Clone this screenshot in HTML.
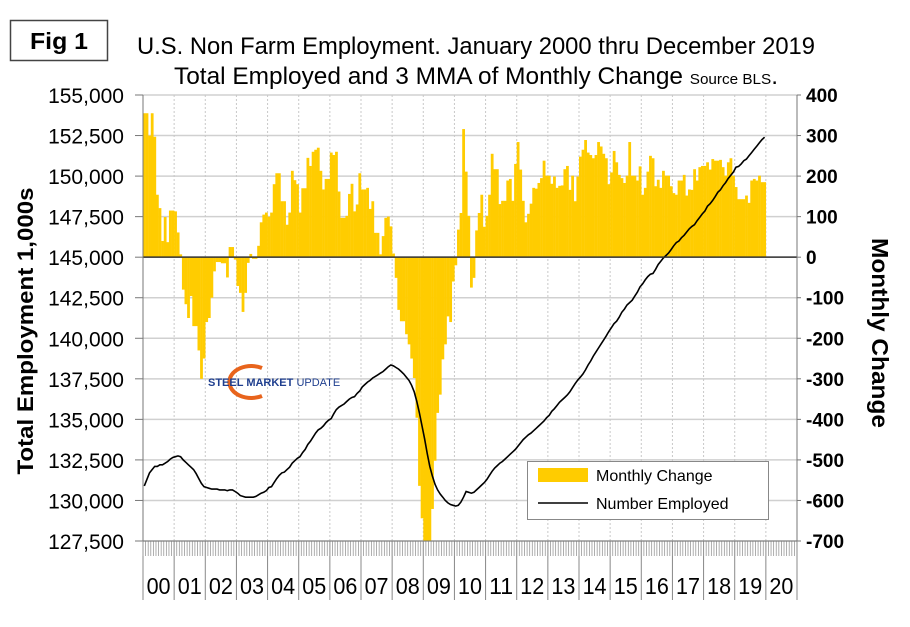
<!DOCTYPE html>
<html><head><meta charset="utf-8"><style>
body{margin:0;background:#fff;}
svg text{font-family:"Liberation Sans",sans-serif;}
</style></head><body>
<svg id="chart" width="910" height="622" xmlns="http://www.w3.org/2000/svg">
<rect x="0" y="0" width="910" height="622" fill="#fff"/>
<g><rect x="10.5" y="20.5" width="97" height="40" fill="#fff" stroke="#444" stroke-width="1.5"/>
<text x="59" y="49" font-size="23" font-weight="bold" text-anchor="middle" textLength="58" lengthAdjust="spacingAndGlyphs">Fig 1</text></g>
<text x="137" y="54" font-size="24" textLength="678" lengthAdjust="spacingAndGlyphs">U.S. Non Farm Employment. January 2000 thru December 2019</text>
<text x="174" y="84" font-size="24" textLength="604" lengthAdjust="spacingAndGlyphs">Total Employed and 3 MMA of Monthly Change <tspan font-size="15">Source BLS</tspan>.</text>
<g id="grid"></g>
<g id="bars"></g>
<g id="lineg"></g>
<g id="axes"></g>
<g>
<path d="M262,368 A22,16 0 1,0 262,396" fill="none" stroke="#e8641c" stroke-width="4"/>
<text x="208" y="386" font-size="11" font-weight="bold" fill="#1f3f8f">STEEL <tspan>MARKET</tspan> <tspan font-weight="normal">UPDATE</tspan></text>
</g>
<g>
<rect x="527.5" y="461.5" width="241" height="58" fill="#fff" stroke="#888"/>
<rect x="538" y="468" width="50" height="14" fill="#FFCC00"/>
<text x="596" y="481" font-size="16">Monthly Change</text>
<line x1="538" y1="503" x2="588" y2="503" stroke="#000" stroke-width="1.5"/>
<text x="596" y="509" font-size="16">Number Employed</text>
</g>
<text transform="translate(33,331) rotate(-90)" font-size="22" font-weight="bold" text-anchor="middle" textLength="287" lengthAdjust="spacingAndGlyphs">Total Employment 1,000s</text>
<text transform="translate(872,333) rotate(90)" font-size="23" font-weight="bold" text-anchor="middle" textLength="190" lengthAdjust="spacingAndGlyphs">Monthly Change</text>
</svg>
<script>
const yearLabels=["00","01","02","03","04","05","06","07","08","09","10","11","12","13","14","15","16","17","18","19","20"];
const leftTicks=[127500,130000,132500,135000,137500,140000,142500,145000,147500,150000,152500,155000];
const rightTicks=[-700,-600,-500,-400,-300,-200,-100,0,100,200,300,400];
const monthlyChange=[355,355,300,355,297,154,121,40,99,37,115,115,
113,61,7,-80,-116,-150,-96,-170,-170,-230,-300,-250,
-160,-150,-100,-35,-12,-12,-15,-15,-50,25,25,-6,
-71,-88,-135,-88,-14,8,-4,-4,28,86,105,110,
100,110,180,207,207,138,138,80,110,213,190,180,
110,170,170,245,225,260,265,270,213,167,193,193,
258,252,260,162,97,97,102,156,181,113,130,207,
167,167,171,119,138,60,60,7,52,97,100,76,
9,-51,-130,-158,-158,-190,-215,-250,-298,-396,-564,-644,
-750,-780,-760,-621,-502,-384,-339,-252,-215,-146,-160,-60,
-20,68,109,316,211,102,-75,-51,66,109,154,75,
102,154,255,217,217,131,139,139,189,193,139,230,
284,216,139,86,107,132,171,169,183,195,238,201,
201,181,199,171,176,177,217,225,166,201,138,199,
248,265,289,258,252,244,252,284,273,255,244,180,
209,262,234,203,195,183,201,284,201,201,189,224,
154,171,211,250,244,175,191,171,213,201,201,175,
158,154,189,189,203,152,167,166,217,189,222,225,
225,234,216,242,238,238,240,222,201,234,244,201,
173,143,143,143,152,134,189,193,189,201,185,185];
const employed=[130900,131300,131700,131900,132100,132100,132200,132200,132300,132400,132550,132650,
132700,132750,132700,132500,132350,132200,132050,131900,131650,131350,131050,130850,
130800,130750,130700,130700,130700,130650,130650,130650,130600,130650,130650,130550,
130450,130300,130250,130200,130200,130200,130200,130250,130350,130450,130500,130600,
130800,130850,131100,131350,131550,131700,131750,131900,132050,132300,132450,132600,
132700,132950,133150,133450,133650,133900,134150,134350,134450,134600,134800,134950,
135050,135350,135600,135750,135850,135950,136100,136250,136350,136400,136600,136750,
137000,137150,137300,137400,137550,137650,137750,137850,137950,138100,138250,138350,
138300,138200,138100,137950,137800,137600,137400,137100,136700,136100,135400,134600,
133800,132900,132100,131500,131000,130650,130400,130200,130000,129850,129750,129700,
129650,129700,129900,130200,130550,130500,130450,130500,130650,130800,130950,131100,
131300,131550,131800,132000,132150,132300,132400,132550,132700,132850,133000,133150,
133350,133550,133750,133900,134050,134150,134300,134450,134600,134750,134900,135100,
135250,135500,135650,135850,136050,136200,136350,136500,136700,136950,137200,137420,
137600,137800,138050,138350,138600,138900,139150,139400,139650,139900,140150,140420,
140650,140900,141050,141300,141600,141800,142050,142200,142350,142600,142850,143170,
143350,143600,143800,143950,144000,144250,144550,144750,144950,145100,145250,145470,
145700,145900,146000,146200,146350,146550,146750,146900,147000,147250,147450,147670,
147850,148150,148300,148500,148750,149000,149150,149400,149600,149850,150050,150250,
150550,150600,150750,150950,151050,151250,151450,151650,151850,152050,152250,152400];

const NS="http://www.w3.org/2000/svg";
const L=143,R=797,T=95,B=541,YW=(R-L)/21,MW=YW/12;
const yL=v=>B-(v-127500)/(155000-127500)*(B-T);
const yR=v=>B-(v+700)/1100*(B-T);
const xM=m=>L+m*MW;
function mk(tag,attrs,parent){const e=document.createElementNS(NS,tag);for(const k in attrs)e.setAttribute(k,attrs[k]);parent.appendChild(e);return e;}
const grid=document.getElementById('grid'),bars=document.getElementById('bars'),lineg=document.getElementById('lineg'),axes=document.getElementById('axes');
leftTicks.forEach((v,i)=>{
  const y=yL(v);
  const g=mk('line',{x1:L,x2:R,y1:y,y2:y,stroke:'#d0d0d0','stroke-width':1.5},grid);
  
  
  const t=mk('text',{x:124,y:y+8,'font-size':21,'text-anchor':'end'},axes);
  t.textContent=v.toLocaleString('en-US');
  
  
  mk('line',{x1:L-8,x2:L,y1:y,y2:y,stroke:'#777'},axes);
  mk('line',{x1:R,x2:R+4,y1:y,y2:y,stroke:'#777'},axes);
});
rightTicks.forEach(v=>{
  const t=mk('text',{x:806,y:yR(v)+7,'font-size':19,'font-weight':'bold'},axes);
  t.textContent=String(v);
  
  
});
yearLabels.forEach((lab,i)=>{
  const x=L+i*YW;
  if(i>0){const g=mk('line',{x1:x,x2:x,y1:T,y2:B,stroke:'#c8c8c8','stroke-dasharray':'2,2'},grid);
  
  }
  mk('line',{x1:x,x2:x,y1:B,y2:600,stroke:'#888'},axes);
  const t=mk('text',{x:x+YW/2,y:594,'font-size':23,'text-anchor':'middle',textLength:24,lengthAdjust:'spacingAndGlyphs'},axes);
  t.textContent=lab;
  
  
});
mk('line',{x1:R,x2:R,y1:B,y2:600,stroke:'#888'},axes);
for(let m=0;m<252;m++){const x=xM(m);mk('line',{x1:x,x2:x,y1:B,y2:556,stroke:'#999','stroke-width':0.8},axes);}
monthlyChange.forEach((v,m)=>{
  const cv=Math.max(-700,Math.min(400,v));
  const y0=yR(0),y1=yR(cv);
  const r=mk('rect',{x:xM(m),y:Math.min(y0,y1),width:MW+0.2,height:Math.abs(y1-y0),fill:'#FFCC00'},bars);
  
  
});
const z=mk('line',{x1:L,x2:R,y1:yR(0),y2:yR(0),stroke:'#333','stroke-width':1.5},axes);


const pts=employed.map((v,m)=>(xM(m)+MW/2).toFixed(1)+','+yL(v).toFixed(1)).join(' ');
const pl=mk('polyline',{points:pts,fill:'none',stroke:'#000','stroke-width':1.6},lineg);


mk('line',{x1:L,x2:L,y1:T,y2:B,stroke:'#777'},axes);
mk('line',{x1:R,x2:R,y1:T,y2:B,stroke:'#777'},axes);
mk('line',{x1:L,x2:R,y1:B,y2:B,stroke:'#777'},axes);
</script>
</body></html>
